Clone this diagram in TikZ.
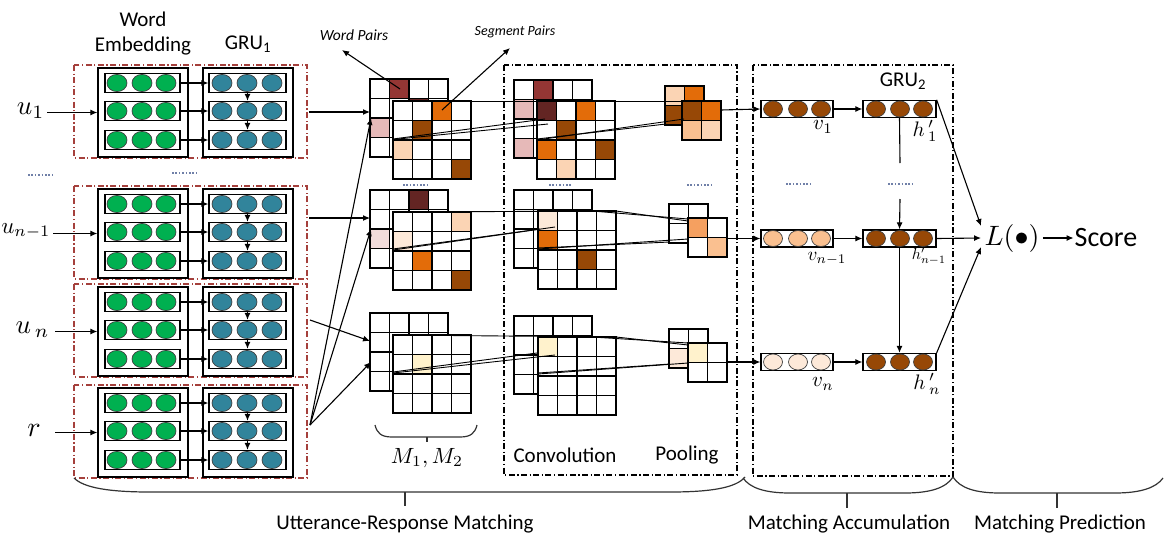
\documentclass[tikz,border=0pt]{standalone}
\usepackage{fontspec}
\setmainfont{Carlito}
\usetikzlibrary{arrows.meta}
\definecolor{egreen}{HTML}{00B050}
\definecolor{gteal}{HTML}{31849B}
\definecolor{brn}{HTML}{974806}
\definecolor{dred}{HTML}{943634}
\definecolor{mar}{HTML}{632523}
\definecolor{pnk}{HTML}{E6B9B8}
\definecolor{lpnk}{HTML}{F2DCDB}
\definecolor{org}{HTML}{E36C09}
\definecolor{peach}{HTML}{FBD4B4}
\definecolor{lorg}{HTML}{FAC090}
\definecolor{morg}{HTML}{F5A060}
\definecolor{vlight}{HTML}{FDE9D9}
\definecolor{lyel}{HTML}{FFF2CC}
\definecolor{boxred}{HTML}{A5403C}
\definecolor{dotcol}{HTML}{7080A8}
\tikzset{
 arr/.style={line width=1.1pt,-{Latex[length=7pt,width=6pt]}},
 ln/.style={line width=1.1pt},
 wl/.style={line width=0.9pt},
 bigbox/.style={draw,line width=1.3pt,minimum width=90,minimum height=89,inner sep=0},
 rowbox/.style={draw,line width=1.3pt,inner sep=0,minimum height=19},
 redbox/.style={draw=boxred,line width=1.2pt,dash pattern=on 6pt off 2.5pt on 1.2pt off 2.5pt},
 blkbox/.style={draw=black,line width=1.2pt,dash pattern=on 6pt off 2.5pt on 1.2pt off 2.5pt},
 cellst/.style={draw=black,line width=1.3pt},
 lbl/.style={font=\fontsize{21}{25}\selectfont,inner sep=0},
 mlbl/.style={inner sep=0},
 dotln/.style={draw=dotcol,line width=1.3pt,dash pattern=on 1.6pt off 1.8pt},
 brace/.style={line width=1.2pt,draw=black!80},
 circ/.style={draw=black!75,line width=0.7pt},
}
\newcommand\cgrid[5]{%
 \foreach \i in {1,...,#3}{\foreach \j in {1,...,#4}{%
   \filldraw[fill=white,cellst] ({#1+(\i-1)*19.5},{#2+(\j-1)*19.5}) rectangle ++(19.5,19.5);}}%
 \foreach \ci/\cj/\cl in {#5}{%
   \filldraw[fill=\cl,cellst] ({#1+\ci*19.5},{#2+\cj*19.5}) rectangle ++(19.5,19.5);}%
}
\begin{document}
\begin{tikzpicture}[x=1pt,y=-1pt]
\useasboundingbox (0,0) rectangle (1174,536);
% headers
\node[lbl] (hw) at (143,19) {Word};
\node[lbl] (he) at (143,46) {Embedding};
\node[lbl] (hg) at (248,44) {GRU\textsubscript{1}};
% dash-dot boxes of the middle part
\draw[blkbox] (504,65) rectangle (737,475);
\draw[blkbox] (753,65) rectangle (953,476);
% left blocks
\foreach \tp/\n in {68/a,189/b,287/c,388/d}{
 \draw[redbox] (74,{\tp-3}) rectangle (307,{\tp+90});
 \node[bigbox] (E\n) at (143,{\tp+44.5}) {};
 \node[bigbox] (G\n) at (248,{\tp+44.5}) {};
 \foreach \k/\dy in {1/15,2/43,3/72}{
  \node[rowbox,minimum width=75] (e\n\k) at (142.5,{\tp+\dy}) {};
  \node[rowbox,minimum width=77] (g\n\k) at (247.5,{\tp+\dy}) {};
  \foreach \cx in {117,142,166}{\filldraw[fill=egreen,circ] (\cx,{\tp+\dy}) ellipse [x radius=10,y radius=8.6];}
  \foreach \cx in {222,247,272}{\filldraw[fill=gteal,circ] (\cx,{\tp+\dy}) ellipse [x radius=10,y radius=8.6];}
  \draw[arr] (e\n\k.east) -- (g\n\k.west);
 }
 \draw[arr] (g\n1.south) -- (g\n2.north);
 \draw[arr] (g\n2.south) -- (g\n3.north);
}
% inputs
\node[mlbl,scale=2.7,anchor=east] (u1) at (45,111) {$u_1$};
\node[mlbl,scale=2.3,anchor=east] (un1) at (51,231) {$u_{n-1}$};
\node[mlbl,scale=2.7,anchor=east] (un) at (50,330) {$u_{\,n}$};
\node[mlbl,scale=2.8] (r) at (34,430) {$r$};
\coordinate (iu1) at (47,112.5);
\coordinate (iun1) at (53,233.5);
\coordinate (iun) at (55,331.5);
\coordinate (ir) at (55,432.5);
\draw[arr] (iu1) -- (Ea.west);
\draw[arr] (iun1) -- (Eb.west);
\draw[arr] (iun) -- (Ec.west);
\draw[arr] (ir) -- (Ed.west);
% dots between blocks
\draw[dotln] (28,175) -- (53,175);
\draw[dotln] (172,173) -- (197,173);
% M grids
\cgrid{370}{79}{4}{4}{1/0/dred,0/2/pnk,2/1/mar}
\cgrid{393}{101}{4}{4}{2/0/org,1/1/brn,0/2/peach,3/3/brn}
\cgrid{370}{190}{4}{4}{2/0/mar,0/2/lpnk}
\cgrid{393}{212}{4}{4}{3/0/peach,0/1/vlight,1/2/org,3/3/brn}
\cgrid{370}{313}{4}{4}{0/0/white}
\cgrid{393}{335}{4}{4}{1/1/lyel}
% convolution grids
\cgrid{514}{80}{4}{4}{1/0/dred,0/1/pnk,0/3/pnk}
\cgrid{537}{101}{4}{4}{0/0/mar,2/0/org,1/1/brn,0/2/org,3/2/brn,1/3/peach}
\cgrid{514}{190}{4}{4}{0/0/white}
\cgrid{538}{211}{4}{4}{0/0/vlight,0/1/org,2/2/brn}
\cgrid{514}{316}{4}{4}{0/0/white}
\cgrid{538}{337}{4}{4}{0/0/lyel}
% pooling grids
\cgrid{665}{86}{2}{2}{0/0/peach,1/0/org,0/1/brn}
\cgrid{682}{101}{2}{2}{0/0/brn,1/0/org,0/1/lorg,1/1/peach}
\cgrid{669}{204}{2}{2}{0/0/white}
\cgrid{688}{218}{2}{2}{0/0/morg,1/1/lorg}
\cgrid{669}{329}{2}{2}{0/1/vlight}
\cgrid{688}{343}{2}{2}{0/0/lyel}
% dots above middle row
\draw[dotln] (403,185) -- (427,185);
\draw[dotln] (549,185) -- (572,185);
\draw[dotln] (687,185) -- (711,185);
% window connector lines, top row
\draw[wl] (393,101) -- (682,101);
\draw[wl] (393,139) -- (545,119);
\draw[wl] (393,139.5) -- (548,124);
\draw[wl] (537,139) -- (666,124);
\draw[wl] (537,140) -- (684,119);
% middle row
\draw[wl] (393,212) -- (616,211);
\draw[wl] (592,211) -- (688,219);
\draw[wl] (616,211) -- (688,221);
\draw[wl] (393,249) -- (540,229);
\draw[wl] (393,250) -- (555,227);
\draw[wl] (538,248) -- (670,242);
\draw[wl] (538,249) -- (688,239);
% bottom row
\draw[wl] (393,335) -- (616,337);
\draw[wl] (592,337) -- (688,343);
\draw[wl] (616,337) -- (688,345);
\draw[wl] (393,372) -- (537,353);
\draw[wl] (393,373) -- (555,355);
\draw[wl] (538,373) -- (670,364);
\draw[wl] (538,374) -- (688,363);
% connectors left blocks -> M
\coordinate (oa) at (309,112);
\coordinate (ob) at (309,218);
\coordinate (oc) at (310,320);
\coordinate (od) at (310,425);
\coordinate (ma) at (370,112);
\coordinate (mar1) at (371,118);
\coordinate (mb) at (370,218);
\coordinate (mbr) at (371,229);
\coordinate (mc) at (370,341);
\coordinate (mcr) at (371,362);
\draw[arr] (oa) -- (ma);
\draw[arr] (ob) -- (mb);
\draw[arr] (oc) -- (mc);
\draw[arr] (od) -- (mar1);
\draw[arr] (od) -- (mbr);
\draw[arr] (od) -- (mcr);
% word / segment pairs
\node[font=\fontsize{15.5}{17}\selectfont\itshape] (wp) at (354,35) {Word Pairs};
\node[font=\fontsize{14}{16}\selectfont\itshape] (sp) at (515,32) {Segment Pairs};
\coordinate (wpc) at (400,89);
\coordinate (wpt) at (342,50);
\coordinate (spc) at (442,110);
\coordinate (spt) at (510,48);
\draw[arr] (wpc) -- (wpt);
\draw[arr] (spc) -- (spt);
% M brace
\draw[brace] (375,425) .. controls (377,433) and (381,437) .. (392,437) -- (460,437) .. controls (471,437) and (475,433) .. (477,425);
\draw[brace] (427,437) -- (427,442);
\node[mlbl,scale=2.2] (mlab) at (427,458) {$M_1,M_2$};
\node[lbl] (conv) at (565,455) {Convolution};
\node[lbl] (pool) at (687,455) {Pooling};
% right side
\node[lbl] (hg2) at (903,81) {GRU\textsubscript{2}};
\foreach \y/\n/\c in {109/1/brn,238.5/2/lorg,362/3/vlight}{
 \node[rowbox,minimum width=72,minimum height=17] (v\n) at (797,\y) {};
 \node[rowbox,minimum width=73,minimum height=17] (h\n) at (899.5,\y) {};
 \foreach \cx in {773,798,821}{\filldraw[fill=\c,circ] (\cx,\y) ellipse [x radius=9.5,y radius=8];}
 \foreach \cx in {876,900,923}{\filldraw[fill=brn,circ] (\cx,\y) ellipse [x radius=9.5,y radius=8];}
 \draw[arr] (v\n.east) -- (h\n.west);
}
\coordinate (p1) at (721,110);
\coordinate (p2) at (727,238.5);
\coordinate (p3) at (727,362);
\draw[arr] (p1) -- (v1.west);
\draw[arr] (p2) -- (v2.west);
\draw[arr] (p3) -- (v3.west);
\node[mlbl,scale=2.1] (lv1) at (823,127) {$v_1$};
\node[mlbl,scale=2.1] (lh1) at (925,131) {$h\,'_1$};
\node[mlbl,scale=1.9] (lv2) at (827,259) {$v_{n-1}$};
\node[mlbl,scale=1.6] (lh2) at (929,256) {$h'_{n-1}$};
\node[mlbl,scale=2.1] (lv3) at (823,384) {$v_n$};
\node[mlbl,scale=2.1] (lh3) at (927,384) {$h\,'_n$};
\coordinate (hd1) at (900,163);
\coordinate (hd2) at (900,199);
\draw[ln] (h1.south) -- (hd1);
\draw[arr] (hd2) -- (h2.north);
\draw[arr] (h2.south) -- (h3.north);
\draw[dotln] (786,184) -- (810,184);
\draw[dotln] (888,184) -- (912,184);
% prediction
\node[mlbl,scale=2.8] (L) at (1012,238) {$L(\bullet)$};
\node[font=\fontsize{28}{30}\selectfont,inner sep=1pt] (S) at (1106,238) {Score};
\draw[arr] (h1.north east) -- ([yshift=12pt,xshift=-3pt]L.west);
\draw[arr] (h2.east) -- ([xshift=-3pt]L.west);
\draw[arr] (h3.north east) -- ([yshift=-9pt,xshift=-3pt]L.west);
\draw[arr] ([xshift=3pt]L.east) -- (S.west);
% bottom braces
\draw[brace] (74,478) .. controls (84,488) and (110,492) .. (150,492) -- (670,492) .. controls (710,492) and (736,488) .. (745,477);
\draw[brace] (405,492) -- (405,506);
\draw[brace] (743,478) .. controls (750,488) and (765,493) .. (790,493) -- (905,493) .. controls (930,493) and (946,488) .. (953,477);
\draw[brace] (847,493) -- (847,508);
\draw[brace] (953,477) .. controls (960,488) and (975,493) .. (1000,493) -- (1115,493) .. controls (1140,493) and (1156,488) .. (1163,478);
\draw[brace] (1057,493) -- (1057,508);
\node[lbl] (t1) at (405,524) {Utterance-Response Matching};
\node[lbl] (t2) at (849,524) {Matching Accumulation};
\node[lbl] (t3) at (1060,524) {Matching Prediction};
\end{tikzpicture}
\end{document}
